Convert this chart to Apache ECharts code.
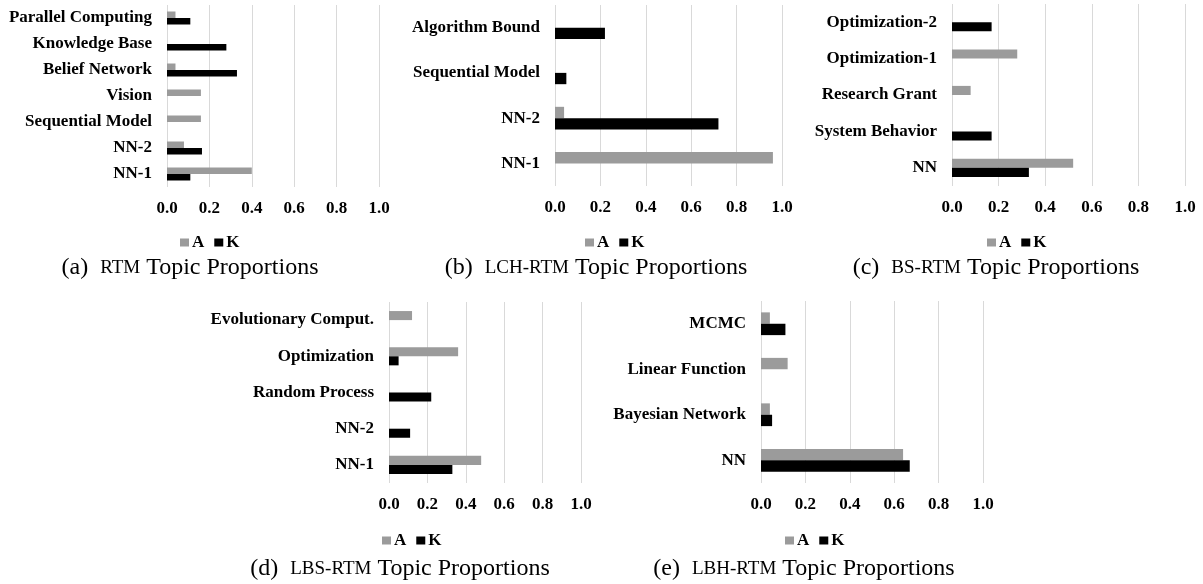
<!DOCTYPE html>
<html>
<head>
<meta charset="utf-8">
<script src="https://cdn.jsdelivr.net/npm/echarts@6/dist/echarts.min.js"></script>
<style>html,body{margin:0;padding:0;background:#fff}#c{width:1203px;height:584px}</style>
</head>
<body>
<div id="c"></div>
<script>
// ---- data (categories listed bottom to top) ----
var catsA = ['NN-1','NN-2','Sequential Model','Vision','Belief Network','Knowledge Base','Parallel Computing'];
var aA = [0.40, 0.08, 0.16, 0.16, 0.04, 0, 0.04];
var kA = [0.11, 0.165, 0, 0, 0.33, 0.28, 0.11];

var catsB = ['NN-1','NN-2','Sequential Model','Algorithm Bound'];
var aB = [0.96, 0.04, 0, 0];
var kB = [0, 0.72, 0.05, 0.22];

var catsC = ['NN','System Behavior','Research Grant','Optimization-1','Optimization-2'];
var aC = [0.52, 0, 0.08, 0.28, 0];
var kC = [0.33, 0.17, 0, 0, 0.17];

var catsD = ['NN-1','NN-2','Random Process','Optimization','Evolutionary Comput.'];
var aD = [0.48, 0, 0, 0.36, 0.12];
var kD = [0.33, 0.11, 0.22, 0.05, 0];

var catsE = ['NN','Bayesian Network','Linear Function','MCMC'];
var aE = [0.64, 0.04, 0.12, 0.04];
var kE = [0.67, 0.05, 0, 0.11];

var seriesNames = ['A', 'K'];
var tickMin = 0, tickMax = 1, tickStep = 0.2;
var panelTags = ['(a)', '(b)', '(c)', '(d)', '(e)'];
var panelModels = ['RTM', 'LCH-RTM', 'BS-RTM', 'LBS-RTM', 'LBH-RTM'];
var captionTail = 'Topic Proportions';

// ---- layout ----
var SERIF = "'Liberation Serif','Times New Roman',serif";
var panels = [
  {cats: catsA, a: aA, k: kA, grid: {left: 167, top: 5, width: 212, height: 182}, legend: {left: 175, top: 229}, cap: {x: 190, y: 268}},
  {cats: catsB, a: aB, k: kB, grid: {left: 555, top: 5, width: 227, height: 181}, legend: {left: 580, top: 229}, cap: {x: 596, y: 268}},
  {cats: catsC, a: aC, k: kC, grid: {left: 952, top: 4, width: 233, height: 182}, legend: {left: 982, top: 229}, cap: {x: 996, y: 268}},
  {cats: catsD, a: aD, k: kD, grid: {left: 389, top: 302, width: 192, height: 181}, legend: {left: 377, top: 527}, cap: {x: 400, y: 569}},
  {cats: catsE, a: aE, k: kE, grid: {left: 761, top: 301, width: 222, height: 182}, legend: {left: 780, top: 527}, cap: {x: 804, y: 569}}
];
var colA = '#9b9b9b', colK = '#000000';

var option = {
  animation: false,
  backgroundColor: '#fff',
  grid: [], xAxis: [], yAxis: [], series: [], legend: [], graphic: []
};
panels.forEach(function (p, i) {
  option.grid.push(Object.assign({containLabel: false}, p.grid));
  option.xAxis.push({
    type: 'value', gridIndex: i, min: tickMin, max: tickMax, interval: tickStep,
    axisLine: {show: false}, axisTick: {show: false},
    splitLine: {show: true, lineStyle: {color: '#d9d9d9', width: 1}},
    axisLabel: {margin: 13, color: '#000', fontFamily: SERIF, fontWeight: 'bold', fontSize: 17,
      formatter: function (v) { return v.toFixed(1); }}
  });
  option.yAxis.push({
    type: 'category', gridIndex: i, data: p.cats,
    axisLine: {show: false}, axisTick: {show: false}, splitLine: {show: false},
    axisLabel: {margin: 15, color: '#000', fontFamily: SERIF, fontWeight: 'bold', fontSize: 17}
  });
  option.series.push({
    name: seriesNames[0], type: 'bar', xAxisIndex: i, yAxisIndex: i, data: p.a,
    itemStyle: {color: colA}, barGap: '0%', barCategoryGap: '50%'
  });
  option.series.push({
    name: seriesNames[1], type: 'bar', xAxisIndex: i, yAxisIndex: i, data: p.k,
    itemStyle: {color: colK}, barGap: '0%', barCategoryGap: '50%'
  });
  option.legend.push({
    left: p.legend.left, top: p.legend.top, orient: 'horizontal',
    data: seriesNames, itemWidth: 9, itemHeight: 8, itemGap: 10, selectedMode: false,
    icon: 'rect',
    textStyle: {color: '#000', fontFamily: SERIF, fontWeight: 'bold', fontSize: 17, padding: [0, 0, 0, -2]}
  });
  option.graphic.push({
    type: 'text', x: p.cap.x, y: p.cap.y,
    style: {
      text: '{n|' + panelTags[i] + '  }{s|' + panelModels[i] + '}{n| ' + captionTail + '}',
      align: 'center', verticalAlign: 'middle',
      rich: {
        n: {fontFamily: SERIF, fontSize: 24, fill: '#000', color: '#000'},
        s: {fontFamily: SERIF, fontSize: 19, fill: '#000', color: '#000'}
      }
    }
  });
});
var chart = echarts.init(document.getElementById('c'), null, {renderer: 'canvas'});
chart.setOption(option);
</script>
</body>
</html>
